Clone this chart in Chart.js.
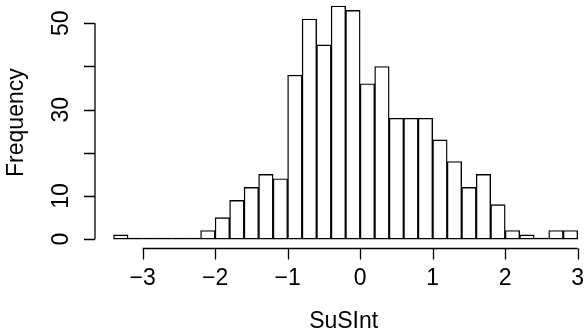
<!DOCTYPE html>
<html>
<head>
<meta charset="utf-8">
<script src="https://cdn.jsdelivr.net/npm/chart.js@4/dist/chart.umd.min.js"></script>
<style>
  html, body { margin: 0; padding: 0; background: #ffffff; overflow: hidden; }
  canvas { display: block; }
</style>
</head>
<body>
<canvas id="c" width="586" height="336"></canvas>
<script>
// ---- data ----
const binEdges = [-3.4, -3.2, -3.0, -2.8, -2.6, -2.4, -2.2, -2.0, -1.8, -1.6, -1.4, -1.2, -1.0,
                  -0.8, -0.6, -0.4, -0.2, 0.0, 0.2, 0.4, 0.6, 0.8, 1.0, 1.2, 1.4, 1.6, 1.8,
                  2.0, 2.2, 2.4, 2.6, 2.8, 3.0];
const counts = [1, 0, 0, 0, 0, 0, 2, 5, 9, 12, 15, 14, 38, 51, 45, 54, 53, 36, 40, 28, 28, 28,
                23, 18, 12, 15, 8, 2, 1, 0, 2, 2];
const xTicks = [-3, -2, -1, 0, 1, 2, 3];
const xTickLabels = ['\u22123', '\u22122', '\u22121', '0', '1', '2', '3'];
const yTicks = [0, 10, 20, 30, 40, 50];
const yTickLabels = ['0', '10', '', '30', '', '50'];
const xTitle = 'SuSInt';
const yTitle = 'Frequency';

const points = counts.map((c, i) => ({ x: (binEdges[i] + binEdges[i + 1]) / 2, y: c }));

const FONT = '23px "Liberation Sans", Arial, Helvetica, sans-serif';

const rAxes = {
  id: 'rAxes',
  afterDatasetsDraw(chart) {
    const ctx = chart.ctx;
    const xs = chart.scales.x, ys = chart.scales.y;
    const area = chart.chartArea;
    ctx.save();
    ctx.strokeStyle = '#000';
    ctx.fillStyle = '#000';
    ctx.lineWidth = 1.3;
    // zero-count bins drawn as flat outlines on the baseline
    const y0 = ys.getPixelForValue(0);
    counts.forEach((c, i) => {
      if (c === 0) {
        ctx.beginPath();
        ctx.moveTo(xs.getPixelForValue(binEdges[i]), y0 - 0.6);
        ctx.lineTo(xs.getPixelForValue(binEdges[i + 1]), y0 - 0.6);
        ctx.stroke();
      }
    });
    // x axis
    const axY = area.bottom;
    ctx.beginPath();
    ctx.moveTo(xs.getPixelForValue(xTicks[0]), axY);
    ctx.lineTo(xs.getPixelForValue(xTicks[xTicks.length - 1]), axY);
    xTicks.forEach(t => {
      const px = Math.round(xs.getPixelForValue(t)) + 0.5;
      ctx.moveTo(px, axY);
      ctx.lineTo(px, axY + 11);
    });
    ctx.stroke();
    ctx.font = FONT;
    ctx.textAlign = 'center';
    ctx.textBaseline = 'middle';
    xTicks.forEach((t, i) => {
      ctx.fillText(xTickLabels[i], xs.getPixelForValue(t), 279);
    });
    ctx.textBaseline = 'alphabetic';
    ctx.fillText(xTitle, xs.getPixelForValue((xs.min + 3.256) / 2) - 2, 327.5);
    // y axis
    const axX = area.left;
    ctx.beginPath();
    ctx.moveTo(axX, ys.getPixelForValue(yTicks[0]));
    ctx.lineTo(axX, ys.getPixelForValue(yTicks[yTicks.length - 1]));
    yTicks.forEach(t => {
      const py = Math.round(ys.getPixelForValue(t)) + 0.5;
      ctx.moveTo(axX, py);
      ctx.lineTo(axX - 11, py);
    });
    ctx.stroke();
    yTicks.forEach((t, i) => {
      if (!yTickLabels[i]) return;
      ctx.save();
      ctx.translate(62, ys.getPixelForValue(t));
      ctx.rotate(-Math.PI / 2);
      ctx.textAlign = 'center';
      ctx.textBaseline = 'middle';
      ctx.fillText(yTickLabels[i], 0, 0);
      ctx.restore();
    });
    ctx.save();
    ctx.translate(17, ys.getPixelForValue((ys.min + 56.16) / 2));
    ctx.rotate(-Math.PI / 2);
    ctx.textAlign = 'center';
    ctx.textBaseline = 'middle';
    ctx.fillText(yTitle, 0, 0);
    ctx.restore();
    ctx.restore();
  }
};

new Chart(document.getElementById('c'), {
  type: 'bar',
  data: {
    datasets: [{
      data: points,
      backgroundColor: '#ffffff',
      borderColor: '#000000',
      borderWidth: 1.4,
      borderSkipped: false,
      barPercentage: 1.0,
      categoryPercentage: 1.0
    }]
  },
  options: {
    responsive: false,
    animation: false,
    devicePixelRatio: 1,
    layout: { padding: { left: 95, right: 0, top: 0, bottom: 87.5 } },
    plugins: { legend: { display: false }, tooltip: { enabled: false } },
    scales: {
      x: { type: 'linear', min: -3.656, max: 3.114, display: false, offset: false },
      y: { type: 'linear', min: -2.16, max: 55.4, display: false }
    }
  },
  plugins: [rAxes]
});
</script>
</body>
</html>
